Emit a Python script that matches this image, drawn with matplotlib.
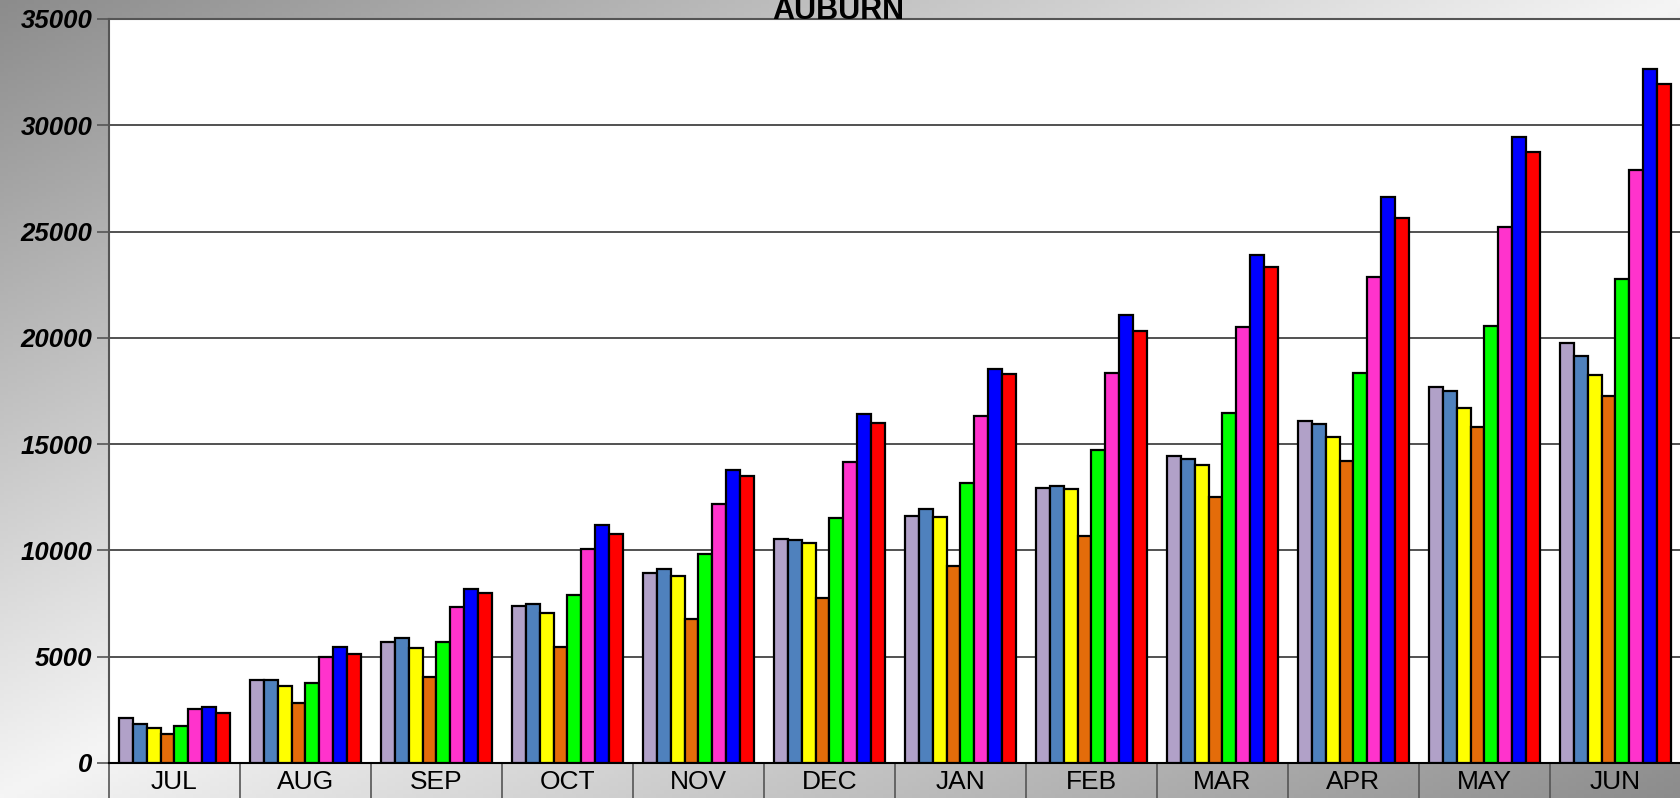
import numpy as np
import matplotlib.pyplot as plt

plt.rcParams['font.family'] = ['Liberation Sans', 'DejaVu Sans']

months = ['JUL', 'AUG', 'SEP', 'OCT', 'NOV', 'DEC', 'JAN', 'FEB', 'MAR', 'APR', 'MAY', 'JUN']

# one list per bar colour, left to right inside each month
s1 = [2120, 3920, 5710, 7390, 8950, 10550, 11620, 12920, 14440, 16090, 17700, 19770]
s2 = [1840, 3920, 5860, 7480, 9130, 10510, 11950, 13020, 14290, 15960, 17500, 19150]
s3 = [1670, 3640, 5390, 7040, 8780, 10370, 11590, 12880, 14000, 15320, 16720, 18250]
s4 = [1350, 2800, 4060, 5470, 6760, 7770, 9280, 10690, 12500, 14210, 15790, 17280]
s5 = [1760, 3760, 5680, 7900, 9820, 11530, 13190, 14730, 16480, 18360, 20560, 22770]
s6 = [2540, 4970, 7360, 10070, 12180, 14180, 16340, 18330, 20500, 22860, 25200, 27900]
s7 = [2620, 5460, 8190, 11210, 13780, 16430, 18520, 21080, 23900, 26630, 29450, 32650]
s8 = [2350, 5110, 8010, 10770, 13490, 16010, 18300, 20320, 23320, 25640, 28740, 31940]

series = [s1, s2, s3, s4, s5, s6, s7, s8]
colors = ['#b1a1c8', '#4f81bd', '#ffff00', '#e46c0a', '#00ff00', '#ff33cc', '#0000ff', '#ff0000']

W, H = 1681, 798
fig = plt.figure(figsize=(W / 100, H / 100), dpi=100)

# grey diagonal gradient behind everything
bg = fig.add_axes([0, 0, 1, 1], zorder=-10)
u, v = np.meshgrid(np.linspace(0, 1, 400), np.linspace(0, 1, 200))
shade = (245 - 105 * np.abs(u + v - 1)) / 255
bg.imshow(np.dstack([shade, shade, shade]), aspect='auto', extent=[0, 1, 1, 0])
bg.axis('off')

left, top, zero = 109, 19, 763
ax = fig.add_axes([left / W, (H - zero) / H, (W - left) / W, (zero - top) / H])
ax.set_facecolor('white')

x = np.arange(len(months))
w = 0.106
for j, (vals, c) in enumerate(zip(series, colors)):
    ax.bar(x + (j - 3.5) * w, vals, width=w, color=c, edgecolor='black', linewidth=1.6, zorder=3)

ax.set_xlim(-0.5, len(months) - 0.5)
ax.set_ylim(0, 35000)
ax.set_yticks(range(0, 35001, 5000))
ax.grid(axis='y', color='#222222', linewidth=1.1, zorder=0)
ax.tick_params(axis='y', length=9, width=1.2, color='#555555', pad=3)
for lbl in ax.get_yticklabels():
    lbl.set_fontsize(18.5)
    lbl.set_fontweight('bold')
    lbl.set_fontstyle('italic')

ax.set_xticks(x)
ax.set_xticklabels(months, fontsize=19)
ax.tick_params(axis='x', which='major', length=0, pad=5)
ax.set_xticks(np.arange(-0.5, len(months)), minor=True)
ax.tick_params(axis='x', which='minor', length=40, width=1.2, color='#555555')

ax.spines['left'].set_color('#555555')
ax.spines['left'].set_linewidth(1.5)
ax.spines['top'].set_color('#555555')
ax.spines['top'].set_linewidth(1.5)
ax.spines['right'].set_visible(False)
ax.spines['bottom'].set_color('black')
ax.spines['bottom'].set_linewidth(1.5)

fig.text(0.4985, 1 - 19 / H, 'AUBURN', ha='center', va='baseline', fontsize=22, fontweight='bold')

plt.savefig('out.png', dpi=100)
